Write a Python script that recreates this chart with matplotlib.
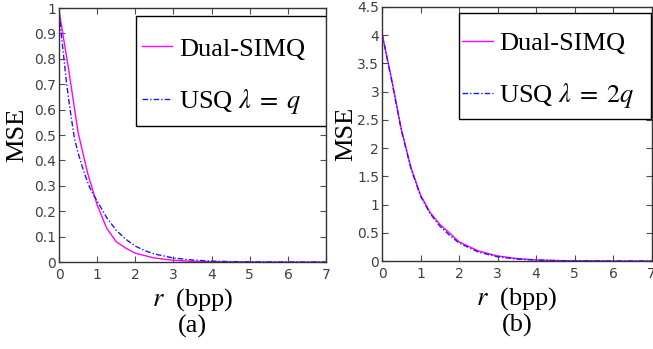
import matplotlib
matplotlib.use("Agg")
import matplotlib.pyplot as plt
from matplotlib.patches import Rectangle

plt.rcParams.update({
    "font.family": ["Liberation Serif", "DejaVu Serif"],
    "mathtext.fontset": "stix",
    "axes.linewidth": 1.0,
    "xtick.direction": "in", "ytick.direction": "in",
    "xtick.top": True, "ytick.right": True,
    "xtick.major.size": 4, "ytick.major.size": 4,
})

# panel (a): lambda = q
r_dual_a = [0, 0.25, 0.5, 0.75, 1.0, 1.25, 1.5, 1.75, 2.0, 2.5, 3.0, 3.5, 4.0, 5.0, 6.0, 7.0]
mse_dual_a = [0.99, 0.76, 0.51, 0.35, 0.225, 0.133, 0.08, 0.055, 0.035, 0.016, 0.007,
              0.003, 0.0015, 0.0003, 0.0001, 0.0]
r_usq_a = [0, 0.05, 0.1, 0.2, 0.3, 0.4, 0.5, 0.6, 0.7, 0.8, 0.9, 1.0, 1.25, 1.5, 1.75,
           2.0, 2.25, 2.5, 3.0, 3.5, 4.0, 4.5, 5.0, 6.0, 7.0]
mse_usq_a = [0.99, 0.91, 0.84, 0.70, 0.59, 0.49, 0.43, 0.38, 0.335, 0.295, 0.265, 0.24,
             0.175, 0.125, 0.09, 0.063, 0.045, 0.032, 0.016, 0.008, 0.004, 0.002,
             0.001, 0.0003, 0.0001]

# panel (b): lambda = 2q
r_b = [0, 0.25, 0.5, 0.75, 1.0, 1.25, 1.5, 1.75, 2.0, 2.5, 3.0, 3.5, 4.0, 4.5, 5.0, 6.0, 7.0]
mse_dual_b = [4.03, 3.22, 2.34, 1.66, 1.17, 0.86, 0.65, 0.50, 0.34, 0.18, 0.09, 0.045,
              0.02, 0.01, 0.005, 0.001, 0.0]
mse_usq_b = [4.03, 3.20, 2.32, 1.64, 1.15, 0.84, 0.62, 0.46, 0.32, 0.16, 0.075, 0.035,
             0.017, 0.008, 0.004, 0.001, 0.0002]

panels = [
    dict(rect=[0.0904, 0.249, 0.409, 0.728], dual=(r_dual_a, mse_dual_a), usq=(r_usq_a, mse_usq_a),
         ylim=(0, 1), yticks=[0, 0.1, 0.2, 0.3, 0.4, 0.5, 0.6, 0.7, 0.8, 0.9, 1],
         ylabels=["0", "0.1", "0.2", "0.3", "0.4", "0.5", "0.6", "0.7", "0.8", "0.9", "1"],
         usq_label=r"USQ $\lambda\;=\;q$", tag="(a)", ylpad=4,
         box=(0.289, 0.535, 0.711, 0.434), leg_anchor=(0.31, 0.885)),
    dict(rect=[0.585, 0.252, 0.413, 0.728], dual=(r_b, mse_dual_b), usq=(r_b, mse_usq_b),
         ylim=(0, 4.5), yticks=[0, 0.5, 1, 1.5, 2, 2.5, 3, 3.5, 4, 4.5],
         ylabels=["0", "0.5", "1", "1.5", "2", "2.5", "3", "3.5", "4", "4.5"],
         usq_label=r"USQ $\lambda\;=\;2q$", tag="(b)", ylpad=0,
         box=(0.286, 0.559, 0.712, 0.417), leg_anchor=(0.298, 0.904)),
]

fig = plt.figure(figsize=(6.53, 3.49), dpi=100)
tick_font = dict(family=["Liberation Sans Narrow", "DejaVu Sans"], size=10, color="0.25")

for p in panels:
    ax = fig.add_axes(p["rect"])
    ax.plot(*p["dual"], color="#ff00ff", lw=1.0, label="Dual-SIMQ")
    ax.plot(*p["usq"], color="#1a1aff", lw=1.0, ls=(0, (4, 1.5, 1, 1.5)), label=p["usq_label"])
    ax.set_xlim(0, 7)
    ax.set_ylim(*p["ylim"])
    ax.set_xticks(range(8))
    ax.set_xticklabels([str(i) for i in range(8)], **tick_font)
    ax.set_yticks(p["yticks"])
    ax.set_yticklabels(p["ylabels"], **tick_font)
    ax.tick_params(axis="x", pad=4, color="0.3")
    ax.tick_params(axis="y", pad=2, color="0.3")
    for s in ax.spines.values():
        s.set_color("0.2")
    ax.set_ylabel("MSE", fontsize=19, labelpad=p["ylpad"])
    ax.set_xlabel(r"$r$  (bpp)", fontsize=19, labelpad=3)

    # legend box drawn separately (content sits off-centre in the original)
    bx, by, bw, bh = p["box"]
    ax.add_patch(Rectangle((bx, by), bw, bh, transform=ax.transAxes, facecolor="white",
                           edgecolor="black", lw=1.0, zorder=4))
    leg = ax.legend(loc="upper left", bbox_to_anchor=p["leg_anchor"], borderaxespad=0,
                    borderpad=0, frameon=False, fontsize=19, handlelength=1.15,
                    handletextpad=0.25, labelspacing=1.0)
    leg.set_zorder(5)
    ax.text(0.5, -0.252, p["tag"], transform=ax.transAxes, ha="center", va="center", fontsize=19)

fig.savefig("out.png", dpi=100)
